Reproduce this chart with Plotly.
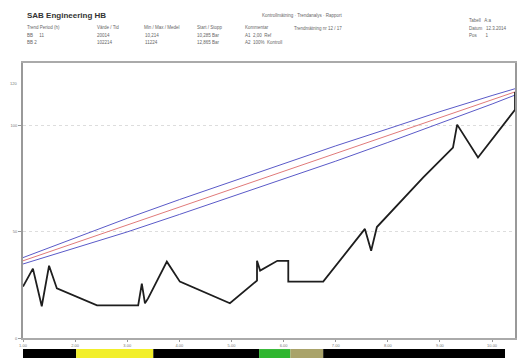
import plotly.graph_objects as go

# ---- data ----
trend_x = [0, 1.9, 3.6, 5.0, 6.5, 14.2, 22.1, 22.8, 23.4, 24.0, 27.6, 30.1, 39.7, 44.9, 44.9,
           45.5, 48.8, 50.9, 50.9, 57.6, 65.6, 66.8, 67.9, 76.8, 82.5, 83.3, 87.3, 92.9, 94.4, 94.4]
trend_y = [24.3, 32.7, 15.0, 34.1, 23.4, 15.4, 15.4, 25.7, 16.4, 18.7, 36.0, 26.6, 16.4, 27.1, 36.4,
           31.8, 36.4, 36.4, 26.6, 26.6, 51.4, 41.1, 52.3, 75.7, 89.7, 100.5, 85.0, 102.8, 107.5, 115.9]

band_x = [0, 10, 20, 30, 40, 50, 60, 70, 80, 90, 94.4]
band_mid = [36.4, 44.8, 53.2, 61.7, 70.1, 78.5, 86.9, 95.3, 103.8, 112.2, 115.9]
band_upper = [37.9, 47.3, 56.4, 65.2, 73.6, 82.0, 90.5, 98.5, 106.6, 114.2, 117.4]
band_lower = [34.9, 42.3, 50.0, 58.2, 66.6, 75.0, 83.3, 92.1, 101.0, 110.2, 114.4]

seg_start = [0, 10.2, 25.0, 45.3, 51.3, 57.6, 92.5]
seg_end = [10.2, 25.0, 45.3, 51.3, 57.6, 92.5, 94.4]
seg_color = ["#000000", "#f2ef2a", "#000000", "#2fb52f", "#a9a36a", "#000000", "#ffffff"]

x_tickvals = [0, 10, 20, 30, 40, 50, 60, 70, 80, 90]
x_ticktext = ["1.00", "2.00", "3.00", "4.00", "5.00", "6.00", "7.00", "8.00", "9.00", "10.00"]
y_tickvals = [0, 50, 100]
y_ticktext = ["0", "50", "100"]

XMAX = 94.4
YMAX = 129.5

fig = go.Figure()

fig.add_trace(go.Scatter(x=band_x, y=band_upper, mode="lines",
                         line=dict(color="#5a5ac8", width=1), xaxis="x", yaxis="y"))
fig.add_trace(go.Scatter(x=band_x, y=band_mid, mode="lines",
                         line=dict(color="#e07a7a", width=1), xaxis="x", yaxis="y"))
fig.add_trace(go.Scatter(x=band_x, y=band_lower, mode="lines",
                         line=dict(color="#5a5ac8", width=1), xaxis="x", yaxis="y"))
fig.add_trace(go.Scatter(x=trend_x, y=trend_y, mode="lines",
                         line=dict(color="#1e1e1e", width=1.8), xaxis="x", yaxis="y"))

fig.add_trace(go.Bar(y=[0] * len(seg_start), x=[e - s for s, e in zip(seg_start, seg_end)],
                     base=seg_start, orientation="h", width=1,
                     marker=dict(color=seg_color, line=dict(color="#bbbbbb", width=0)),
                     xaxis="x2", yaxis="y2"))

H = 297.0
main_bottom = (360 - 340) / H
fig.update_layout(
    width=519, height=360,
    margin=dict(l=23, r=4, t=63, b=0),
    paper_bgcolor="white", plot_bgcolor="white",
    showlegend=False, barmode="overlay",
    font=dict(family="Liberation Sans", size=5, color="#555555"),
    xaxis=dict(domain=[0, 1], range=[0, XMAX], anchor="y",
               tickvals=x_tickvals, ticktext=x_ticktext, showgrid=False,
               showline=True, linecolor="#aaaaaa", linewidth=1.5, mirror=True,
               ticks="outside", ticklen=2, tickcolor="#999999",
               tickfont=dict(size=4, color="#777777")),
    yaxis=dict(domain=[main_bottom, 1], range=[0, YMAX], anchor="x",
               tickvals=y_tickvals, ticktext=y_ticktext,
               showgrid=True, gridcolor="#dddddd", griddash="dot", gridwidth=1,
               zeroline=False,
               showline=True, linecolor="#999999", linewidth=2, mirror=True,
               ticks="outside", ticklen=3, tickcolor="#999999",
               tickfont=dict(size=4, color="#777777")),
    xaxis2=dict(domain=[0, 1], range=[0, XMAX], anchor="y2", visible=False),
    yaxis2=dict(domain=[0, 9 / H], range=[-0.5, 0.5], anchor="x2", visible=False),
)

def px(xp):
    return (xp - 23) / 492.0

def py(yp):
    return (360 - yp) / H

annots = [
    (25, 15, "SAB Engineering HB", 8, "#333333", True),
    (260, 15, "Kontrollmätning · Trendanalys · Rapport", 4.5, "#666666", False),
    (25, 27, "Trend Period (h)", 4.5, "#666666", False),
    (95, 27, "Värde / Tid", 4.5, "#666666", False),
    (142, 27, "Min / Max / Medel", 4.5, "#666666", False),
    (195, 27, "Start / Stopp", 4.5, "#666666", False),
    (243, 27, "Kommentar", 4.5, "#666666", False),
    (292, 28, "Trendmätning nr 12 / 17", 4.5, "#666666", False),
    (25, 35, "BB     11", 4.5, "#666666", False),
    (95, 35, "20014", 4.5, "#666666", False),
    (143, 35, "10,214", 4.5, "#666666", False),
    (195, 35, "10,285 Bar", 4.5, "#666666", False),
    (243, 35, "A1  2,00  Ref", 4.5, "#666666", False),
    (25, 42, "BB 2", 4.5, "#666666", False),
    (95, 42, "102214", 4.5, "#666666", False),
    (143, 42, "11224", 4.5, "#666666", False),
    (195, 42, "12,865 Bar", 4.5, "#666666", False),
    (243, 42, "A2  100%  Kontroll", 4.5, "#666666", False),
    (467, 20, "Tabell   A:a", 4.5, "#666666", False),
    (467, 28, "Datum   12.3.2014", 4.5, "#666666", False),
    (467, 35, "Pos       1", 4.5, "#666666", False),
]
for xp, yp, txt, sz, col, bold in annots:
    fig.add_annotation(x=px(xp), y=py(yp), xref="paper", yref="paper",
                       text=("<b>%s</b>" % txt) if bold else txt,
                       showarrow=False, xanchor="left", yanchor="middle",
                       font=dict(size=sz, color=col, family="Liberation Sans"))

fig.add_annotation(x=0, y=120, xref="x", yref="y", text="120", showarrow=False,
                   xanchor="right", xshift=-4, font=dict(size=4, color="#777777"))

fig.write_html("out.html")
